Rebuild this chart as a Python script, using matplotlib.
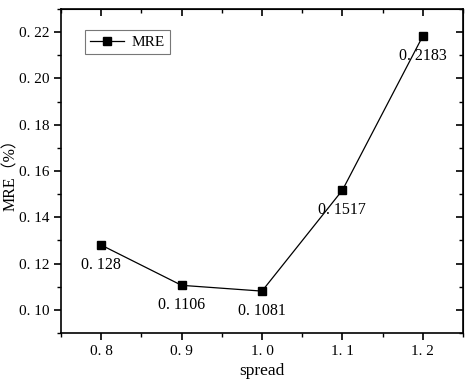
import matplotlib.pyplot as plt
import numpy as np

plt.rcParams['font.family'] = ['Liberation Serif', 'Noto Sans CJK SC']
plt.rcParams['font.size'] = 11

spread = [0.8, 0.9, 1.0, 1.1, 1.2]
mre = [0.128, 0.1106, 0.1081, 0.1517, 0.2183]
labels = ['0. 128', '0. 1106', '0. 1081', '0. 1517', '0. 2183']
xticks = [0.8, 0.9, 1.0, 1.1, 1.2]
xtick_labels = ['0. 8', '0. 9', '1. 0', '1. 1', '1. 2']
yticks = [0.10, 0.12, 0.14, 0.16, 0.18, 0.20, 0.22]
ytick_labels = ['0. 10', '0. 12', '0. 14', '0. 16', '0. 18', '0. 20', '0. 22']

fig = plt.figure(figsize=(4.72, 3.85), dpi=100)
ax = fig.add_axes([61 / 472, 1 - 333 / 385, 402 / 472, 324 / 385])

ax.plot(spread, mre, color='black', lw=0.9, marker='s', ms=6,
        markerfacecolor='black', label='MRE')
for x, y, t in zip(spread, mre, labels):
    ax.annotate(t, (x, y), xytext=(0, -14), textcoords='offset points',
                ha='center', va='center', fontsize=11.5)

ax.set_xlim(0.75, 1.25)
ax.set_ylim(0.09, 0.23)
ax.set_xticks(xticks)
ax.set_xticklabels(xtick_labels)
ax.set_yticks(yticks)
ax.set_yticklabels(ytick_labels)
ax.set_xticks(np.arange(0.75, 1.26, 0.05), minor=True)
ax.set_yticks(np.arange(0.09, 0.231, 0.01), minor=True)
ax.tick_params(which='major', length=5, width=1.2, direction='out')
ax.tick_params(which='minor', length=3, width=1, direction='out')

# top/right ticks point inward
sec_x = ax.secondary_xaxis('top')
sec_x.set_xticks(xticks)
sec_x.set_xticks(np.arange(0.75, 1.26, 0.05), minor=True)
sec_x.tick_params(which='major', length=5, width=1.2, direction='in', labeltop=False)
sec_x.tick_params(which='minor', length=3, width=1, direction='in')
sec_y = ax.secondary_yaxis('right')
sec_y.set_yticks(yticks)
sec_y.set_yticks(np.arange(0.09, 0.231, 0.01), minor=True)
sec_y.tick_params(which='major', length=5, width=1.2, direction='in', labelright=False)
sec_y.tick_params(which='minor', length=3, width=1, direction='in')

for s in ax.spines.values():
    s.set_linewidth(1.2)

ax.set_xlabel('spread', fontsize=12.5, labelpad=4)
ax.set_ylabel('MRE（%）', fontsize=11.5)
ax.yaxis.set_label_coords(-0.105, 0.5)

leg = ax.legend(loc='upper left', bbox_to_anchor=(0.06, 0.935), borderaxespad=0,
                fancybox=False, edgecolor='#555555', fontsize=11, handlelength=2.2,
                borderpad=0.35, handletextpad=0.5, markerscale=0.9)
leg.get_frame().set_linewidth(0.8)

fig.savefig('out.png', dpi=100)
